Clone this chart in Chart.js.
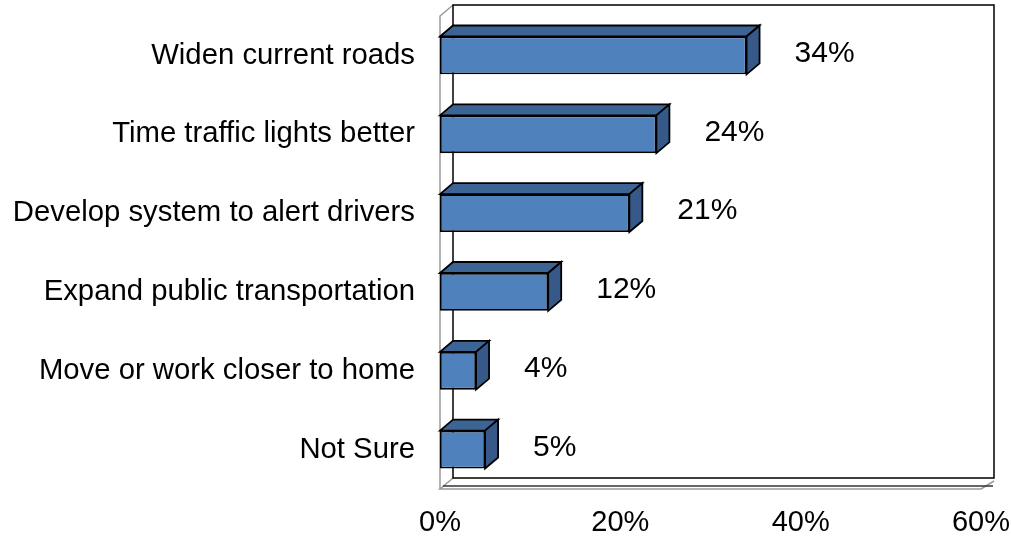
<!DOCTYPE html>
<html>
<head>
<meta charset="utf-8">
<script src="https://cdn.jsdelivr.net/npm/chart.js@4.4.0/dist/chart.umd.min.js"></script>
<style>
  html, body { margin: 0; padding: 0; background: #fff; }
  #wrap { width: 1011px; height: 539px; }
</style>
</head>
<body>
<div id="wrap"><canvas id="grafico"></canvas></div>
<script>
// datos del grafico
const categorias = [
    'Widen current roads',
    'Time traffic lights better',
    'Develop system to alert drivers',
    'Expand public transportation',
    'Move or work closer to home',
    'Not Sure'
];
const valores = [34, 24, 21, 12, 4, 5];
const ejeX = { min: 0, max: 60, paso: 20 };

// profundidad del efecto 3D
const DX = 13;
const DY = 11;
const FUENTE = "'Liberation Sans', Arial, sans-serif";

// paredes y suelo del grafico 3D
const paredes = {
    id: 'paredes',
    beforeDatasetsDraw(chart) {
        const { ctx, chartArea: a } = chart;
        ctx.save();
        ctx.lineWidth = 1.5;
        // pared izquierda
        ctx.strokeStyle = '#9a9a9a';
        ctx.beginPath();
        ctx.moveTo(a.left, a.bottom);
        ctx.lineTo(a.left, a.top);
        ctx.lineTo(a.left + DX, a.top - DY);
        ctx.stroke();
        // suelo (borde delantero)
        ctx.beginPath();
        ctx.moveTo(a.left + DX, a.bottom - DY);
        ctx.lineTo(a.left, a.bottom);
        ctx.lineTo(a.right, a.bottom);
        ctx.lineTo(a.right + DX, a.bottom - DY + 3);
        ctx.stroke();
        ctx.strokeStyle = '#333';
        ctx.beginPath();
        ctx.moveTo(a.left + 3, a.bottom - 3);
        ctx.lineTo(a.right + DX - 1, a.bottom - 3);
        ctx.stroke();
        // pared del fondo
        ctx.strokeStyle = '#000';
        ctx.strokeRect(a.left + DX, a.top - DY, a.right - a.left, a.bottom - a.top);
        ctx.restore();
    }
};

// caras superiores, laterales y etiquetas
const barras3D = {
    id: 'barras3D',
    afterDatasetsDraw(chart) {
        const { ctx } = chart;
        const meta = chart.getDatasetMeta(0);
        ctx.save();
        ctx.lineWidth = 1.8;
        ctx.strokeStyle = '#000';
        meta.data.forEach((bar, i) => {
            const p = bar.getProps(['x', 'y', 'base', 'height'], true);
            const top = p.y - p.height / 2;
            const bottom = p.y + p.height / 2;
            // cara superior
            ctx.fillStyle = '#3C6494';
            ctx.beginPath();
            ctx.moveTo(p.base, top);
            ctx.lineTo(p.base + DX, top - DY);
            ctx.lineTo(p.x + DX, top - DY);
            ctx.lineTo(p.x, top);
            ctx.closePath();
            ctx.fill();
            ctx.stroke();
            // cara lateral
            ctx.fillStyle = '#36598A';
            ctx.beginPath();
            ctx.moveTo(p.x, top);
            ctx.lineTo(p.x + DX, top - DY);
            ctx.lineTo(p.x + DX, bottom - DY);
            ctx.lineTo(p.x, bottom);
            ctx.closePath();
            ctx.fill();
            ctx.stroke();
            // etiqueta
            ctx.fillStyle = '#000';
            ctx.font = '30px ' + FUENTE;
            ctx.textAlign = 'left';
            ctx.textBaseline = 'middle';
            ctx.fillText(valores[i] + '%', p.x + 48, p.y - 2);
        });
        ctx.restore();
    }
};

function GraficoBarras3D(canvas) {
    return new Chart(canvas, {
        type: 'bar',
        data: {
            labels: categorias,
            datasets: [{
                data: valores,
                backgroundColor: '#4F81BD',
                borderColor: '#000',
                borderWidth: 1.8,
                borderSkipped: false,
                categoryPercentage: 1,
                barPercentage: 0.48
            }]
        },
        options: {
            indexAxis: 'y',
            responsive: true,
            maintainAspectRatio: false,
            animation: false,
            layout: { padding: { left: 0, top: 16, right: 30, bottom: 0 } },
            plugins: {
                legend: { display: false },
                tooltip: { enabled: false }
            },
            scales: {
                x: {
                    min: ejeX.min,
                    max: ejeX.max,
                    grid: { display: false, drawTicks: false },
                    border: { display: false },
                    ticks: {
                        stepSize: ejeX.paso,
                        padding: 17,
                        color: '#000',
                        font: { family: FUENTE, size: 29 },
                        callback: v => v + '%'
                    },
                    afterFit: s => {
                        s.height = 50;
                        s.paddingLeft = 0;
                        s.paddingRight = 0;
                    }
                },
                y: {
                    grid: { display: false, drawTicks: false },
                    border: { display: false },
                    ticks: {
                        padding: 25,
                        color: '#000',
                        font: { family: FUENTE, size: 29.3 }
                    },
                    afterFit: s => {
                        s.width = 440;
                        s.paddingTop = 0;
                        s.paddingBottom = 0;
                    }
                }
            }
        },
        plugins: [paredes, barras3D]
    });
}

GraficoBarras3D(document.getElementById('grafico'));
</script>
</body>
</html>
